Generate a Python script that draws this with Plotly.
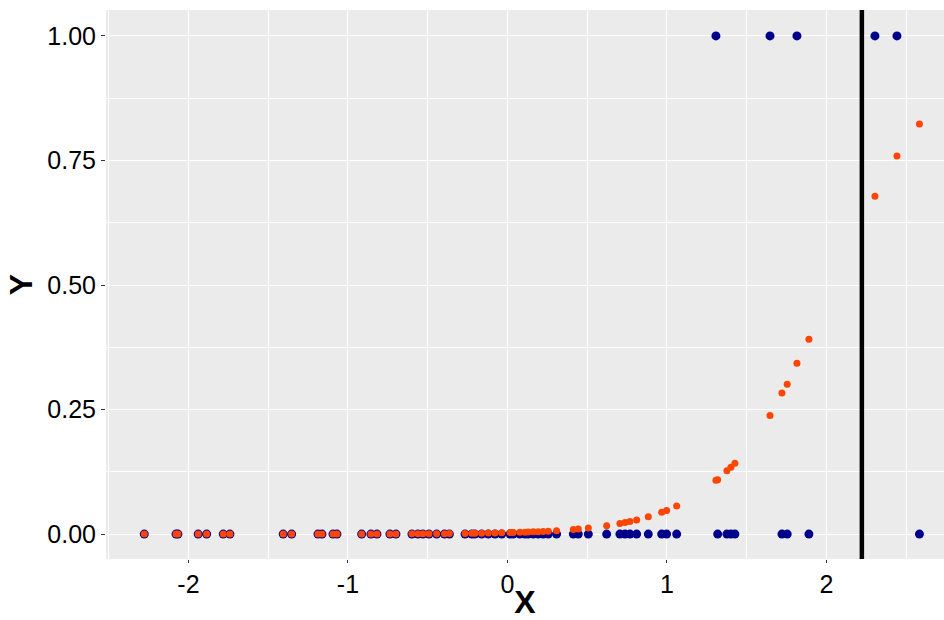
import plotly.graph_objects as go

# Observations (x, observed y) and fitted probabilities
x_vals = [-2.277, -2.078, -2.066, -1.939, -1.886, -1.782, -1.740, -1.406, -1.353,
          -1.188, -1.163, -1.094, -1.069, -0.914, -0.856, -0.818, -0.737, -0.699,
          -0.599, -0.561, -0.530, -0.492, -0.444, -0.395, -0.364, -0.266, -0.224,
          -0.204, -0.162, -0.120, -0.078, -0.036, 0.016, 0.036, 0.078, 0.110,
          0.130, 0.162, 0.193, 0.224, 0.256, 0.308, 0.413, 0.444, 0.507, 0.622,
          0.705, 0.737, 0.768, 0.810, 0.883, 0.967, 0.998, 1.061, 1.307, 1.318,
          1.376, 1.401, 1.426, 1.646, 1.721, 1.754, 1.815, 1.890, 2.304, 2.442,
          2.583]
y_obs = [0, 0, 0, 0, 0, 0, 0, 0, 0,
         0, 0, 0, 0, 0, 0, 0, 0, 0,
         0, 0, 0, 0, 0, 0, 0, 0, 0,
         0, 0, 0, 0, 0, 0, 0, 0, 0,
         0, 0, 0, 0, 0, 0, 0, 0, 0, 0,
         0, 0, 0, 0, 0, 0, 0, 0, 1, 0,
         0, 0, 0, 1, 0, 0, 1, 0, 1, 1,
         0]
y_fit = [0.000004, 0.000007, 0.000008, 0.000011, 0.000013, 0.000017, 0.000019, 0.000051, 0.000059,
         0.000094, 0.0001, 0.00012, 0.00013, 0.00021, 0.00024, 0.00027, 0.00034, 0.00038,
         0.00051, 0.00057, 0.00062, 0.00069, 0.0008, 0.00092, 0.001, 0.0013, 0.0015,
         0.0016, 0.0018, 0.002, 0.0023, 0.0026, 0.003, 0.0032, 0.0036, 0.0039,
         0.0041, 0.0045, 0.0049, 0.0054, 0.0059, 0.0068, 0.0093, 0.0101, 0.0121, 0.0168,
         0.0211, 0.0231, 0.0252, 0.0283, 0.0347, 0.0437, 0.0476, 0.0565, 0.108, 0.109,
         0.127, 0.134, 0.142, 0.238, 0.283, 0.301, 0.343, 0.391, 0.678, 0.759,
         0.823]
threshold = 2.222

x_ticks = [-2, -1, 0, 1, 2]
y_ticks = [0, 0.25, 0.5, 0.75, 1.0]
y_tick_labels = ["0.00", "0.25", "0.50", "0.75", "1.00"]

FONT = "Liberation Sans, Arial, sans-serif"

fig = go.Figure()
fig.add_trace(go.Scatter(x=x_vals, y=y_obs, mode="markers",
                         marker=dict(color="#00008B", size=9, line=dict(width=0)),
                         showlegend=False))
fig.add_trace(go.Scatter(x=x_vals, y=y_fit, mode="markers",
                         marker=dict(color="#FF4500", size=7, line=dict(width=0)),
                         showlegend=False))
fig.add_vline(x=threshold, line=dict(color="black", width=4.5))

fig.update_layout(
    width=944, height=620,
    margin=dict(l=106, r=0, t=10, b=61),
    paper_bgcolor="white",
    plot_bgcolor="#EBEBEB",
    font=dict(family=FONT, color="black"),
    xaxis=dict(
        range=[-2.517, 2.737], tickvals=x_ticks, ticktext=[str(v) for v in x_ticks],
        showgrid=True, gridcolor="white", gridwidth=1.4,
        minor=dict(dtick=0.5, tick0=-2.5, showgrid=True, gridcolor="white", gridwidth=0.7),
        zeroline=False, showline=False, automargin=False,
        ticks="outside", ticklen=3, tickwidth=1.1, tickcolor="#333333",
        tickfont=dict(size=25, family=FONT, color="black"),
        title=dict(text="<b>X</b>", font=dict(size=32, family=FONT, color="black"), standoff=7),
    ),
    yaxis=dict(
        range=[-0.05, 1.052], tickvals=y_ticks, ticktext=y_tick_labels,
        showgrid=True, gridcolor="white", gridwidth=1.4,
        minor=dict(dtick=0.25, tick0=0.125, showgrid=True, gridcolor="white", gridwidth=0.7),
        zeroline=False, showline=False, automargin=False,
        ticks="outside", ticklen=4, tickwidth=1.1, tickcolor="#333333",
        tickfont=dict(size=25, family=FONT, color="black"),
        title=dict(text="<b>Y</b>", font=dict(size=32, family=FONT, color="black"), standoff=5),
    ),
)

fig.write_html("out.html", config={"displayModeBar": False})
